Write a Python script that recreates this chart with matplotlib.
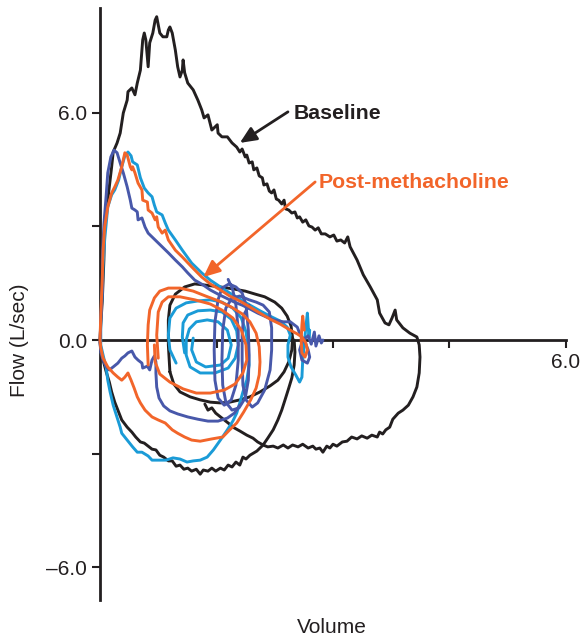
import matplotlib
matplotlib.use("Agg")
import matplotlib.pyplot as plt

plt.rcParams['font.family'] = ['Liberation Sans', 'DejaVu Sans']

# ---------------- data (Volume in L, Flow in L/sec) ----------------
# Baseline: full forced loop
base_loop_vol = [0.00, 0.01, 0.03, 0.05, 0.06, 0.10, 0.15, 0.17, 0.22, 0.26, 0.30, 0.35, 0.36, 0.41, 0.45, 0.48,
                 0.52, 0.55, 0.57, 0.59, 0.62, 0.64, 0.68, 0.71, 0.73, 0.75, 0.77, 0.81, 0.86, 0.88, 0.90, 0.93,
                 0.97, 1.00, 1.03, 1.06, 1.07, 1.09, 1.13, 1.20, 1.26, 1.31, 1.34, 1.39, 1.44, 1.51, 1.52, 1.57,
                 1.64, 1.70, 1.76, 1.80, 1.83, 1.87, 1.89, 1.92, 1.96, 1.98, 2.02, 2.05, 2.09, 2.11, 2.15, 2.18,
                 2.21, 2.24, 2.27, 2.30, 2.34, 2.37, 2.39, 2.43, 2.47, 2.51, 2.54, 2.57, 2.61, 2.65, 2.69, 2.73,
                 2.77, 2.81, 2.85, 2.90, 2.96, 3.01, 3.05, 3.10, 3.15, 3.19, 3.22, 3.31, 3.39, 3.48, 3.57, 3.60,
                 3.67, 3.72, 3.76, 3.80, 3.82, 3.90, 3.99, 4.08, 4.11, 4.12, 4.11, 4.08, 4.03, 3.97, 3.90, 3.84,
                 3.77, 3.73, 3.68, 3.64, 3.60, 3.57, 3.50, 3.44, 3.37, 3.31, 3.24, 3.18, 3.12, 3.05, 3.00, 2.96,
                 2.92, 2.87, 2.83, 2.78, 2.74, 2.68, 2.61, 2.55, 2.48, 2.42, 2.36, 2.29, 2.23, 2.16, 2.10, 2.02,
                 1.93, 1.88, 1.84, 1.80, 1.75, 1.70, 1.65, 1.60, 1.55, 1.49, 1.44, 1.39, 1.33, 1.29, 1.24, 1.18,
                 1.13, 1.08, 1.03, 0.98, 0.93, 0.88, 0.82, 0.77, 0.72, 0.67, 0.62, 0.57, 0.52, 0.46, 0.41, 0.35,
                 0.28, 0.23, 0.19, 0.15, 0.12, 0.08, 0.04, 0.01, 0.00]
base_loop_flow = [0.00, 0.40, 1.06, 2.11, 3.17, 3.69, 4.57, 4.96, 5.20, 5.46, 5.99, 6.33, 6.55, 6.65, 6.47, 6.78,
                  7.12, 7.92, 8.10, 7.92, 7.21, 7.84, 8.10, 8.44, 8.53, 8.32, 8.10, 8.00, 8.00, 8.18, 8.26, 8.10,
                  7.65, 7.21, 6.94, 7.12, 7.39, 7.05, 6.78, 6.60, 6.33, 6.07, 5.86, 5.94, 5.54, 5.68, 5.46, 5.36,
                  5.36, 5.20, 5.09, 4.96, 5.04, 4.83, 4.88, 4.67, 4.70, 4.49, 4.54, 4.33, 4.28, 4.09, 4.12, 3.93,
                  3.88, 3.96, 3.72, 3.69, 3.59, 3.69, 3.46, 3.43, 3.35, 3.38, 3.22, 3.25, 3.11, 3.17, 3.01, 2.98,
                  2.90, 2.96, 2.80, 2.80, 2.72, 2.77, 2.61, 2.64, 2.56, 2.72, 2.46, 2.11, 1.72, 1.40, 1.06, 0.71,
                  0.45, 0.40, 0.58, 0.79, 0.53, 0.32, 0.18, 0.08, -0.13, -0.45, -0.87, -1.24, -1.50, -1.72, -1.85, -1.93,
                  -2.09, -2.30, -2.37, -2.48, -2.43, -2.56, -2.51, -2.59, -2.53, -2.61, -2.56, -2.67, -2.69, -2.80, -2.75, -2.85,
                  -2.80, -2.96, -2.85, -2.88, -2.80, -2.85, -2.75, -2.82, -2.77, -2.85, -2.77, -2.85, -2.80, -2.82, -2.77, -2.93,
                  -3.04, -3.14, -3.09, -3.30, -3.22, -3.35, -3.30, -3.43, -3.38, -3.46, -3.38, -3.46, -3.43, -3.54, -3.41, -3.46,
                  -3.38, -3.41, -3.30, -3.33, -3.19, -3.19, -3.09, -3.04, -2.90, -2.88, -2.80, -2.72, -2.69, -2.56, -2.43, -2.30,
                  -2.11, -1.85, -1.64, -1.37, -1.11, -0.84, -0.53, -0.26, -0.05]

# Baseline: tidal loop
base_tidal_vol = [0.90, 0.88, 0.88, 0.90, 0.97, 1.09, 1.22, 1.35, 1.55, 1.71, 1.87, 2.00, 2.12, 2.25, 2.34, 2.41,
                  2.46, 2.48, 2.47, 2.43, 2.37, 2.29, 2.19, 2.06, 1.93, 1.80, 1.67, 1.55, 1.42, 1.29, 1.16, 1.03,
                  0.95, 0.90]
base_tidal_flow = [-0.84, -0.13, 0.53, 0.92, 1.21, 1.40, 1.48, 1.45, 1.40, 1.35, 1.29, 1.21, 1.14, 1.00, 0.84, 0.63,
                   0.37, 0.05, -0.26, -0.58, -0.84, -1.06, -1.21, -1.37, -1.50, -1.58, -1.64, -1.66, -1.64, -1.58, -1.50, -1.37,
                   -1.16, -0.84]

# Baseline: connecting segments
base_join_vol = [1.35, 1.39, 1.44, 1.49, 1.57, 1.65, 1.73, 1.80, 1.89, 1.97, 2.03, 2.10,
                 2.16, 2.23, 2.29, 2.34, 2.39, 2.43, 2.47, 2.50, 2.51, 2.50]
base_join_flow = [-1.69, -1.85, -1.79, -1.93, -2.06, -2.19, -2.32, -2.40, -2.51, -2.59, -2.69, -2.77,
                  -2.59, -2.37, -2.11, -1.85, -1.53, -1.27, -1.00, -0.66, -0.32, 0.00]

# Post-methacholine trial 1 (dark blue)
blue_loop_vol = [1.80, 1.73, 1.64, 1.52, 1.39, 1.26, 1.13, 1.00, 0.90, 0.82, 0.76, 0.73, 0.72, 0.72, 0.70, 0.67,
                 0.64, 0.61, 0.55, 0.54, 0.49, 0.45, 0.41, 0.36, 0.32, 0.28, 0.23, 0.17, 0.12, 0.08, 0.04, 0.01,
                 0.00, 0.01, 0.03, 0.03, 0.05, 0.08, 0.10, 0.14, 0.18, 0.22, 0.26, 0.30, 0.35, 0.39, 0.41, 0.45,
                 0.48, 0.49, 0.54, 0.58, 0.62, 0.67, 0.71, 0.75, 0.80, 0.88, 0.97, 1.06, 1.13, 1.22, 1.33, 1.42,
                 1.52, 1.62, 1.73, 1.83, 1.93, 2.03, 2.14, 2.24, 2.36, 2.45, 2.54, 2.57, 2.64, 2.68, 2.70, 2.67,
                 2.60, 2.57, 2.61, 2.68, 2.72, 2.76, 2.78, 2.82, 2.85, 2.87]
blue_loop_flow = [-1.72, -1.93, -2.06, -2.14, -2.14, -2.09, -2.03, -1.95, -1.87, -1.74, -1.53, -1.24, -0.87, -0.58, -0.42, -0.53,
                  -0.79, -0.69, -0.74, -0.61, -0.53, -0.45, -0.29, -0.34, -0.42, -0.48, -0.61, -0.71, -0.79, -0.71, -0.53, -0.32,
                  -0.05, 0.53, 1.32, 2.11, 3.04, 3.83, 4.41, 4.83, 5.01, 4.94, 4.67, 4.41, 4.04, 3.69, 3.48, 3.43,
                  3.38, 3.17, 3.22, 2.98, 2.82, 2.72, 2.64, 2.56, 2.46, 2.30, 2.11, 1.93, 1.77, 1.58, 1.45, 1.32,
                  1.21, 1.11, 1.00, 0.92, 0.82, 0.71, 0.61, 0.53, 0.48, 0.48, 0.34, 0.18, -0.05, -0.26, -0.45, -0.61,
                  -0.53, -0.26, 0.00, 0.11, -0.11, 0.21, -0.16, 0.11, -0.08, 0.00]
blue_tidal_vol = [1.65, 1.71, 1.75, 1.78, 1.78, 1.75, 1.69, 1.60, 1.52, 1.48, 1.47, 1.48, 1.52, 1.57, 1.66, 1.75,
                  1.83, 1.88, 1.91, 1.92, 1.91, 1.87, 1.79, 1.70, 1.62, 1.58, 1.57, 1.58, 1.62, 1.70, 1.80, 1.92,
                  2.01, 2.10, 2.18, 2.21, 2.21, 2.19, 2.12, 2.03, 1.96, 1.88, 1.84, 1.83, 1.83, 1.85, 1.92]
blue_tidal_flow = [1.60, 1.32, 0.92, 0.26, -0.53, -1.19, -1.58, -1.72, -1.53, -1.06, -0.26, 0.48, 1.06, 1.37, 1.48, 1.40,
                   1.24, 0.92, 0.26, -0.40, -1.06, -1.53, -1.79, -1.85, -1.64, -1.19, -0.53, 0.26, 0.84, 1.11, 1.16, 1.06,
                   1.00, 0.92, 0.74, 0.32, -0.26, -0.79, -1.32, -1.66, -1.77, -1.58, -1.19, -0.53, 0.13, 0.66, 0.92]

# Post-methacholine trial 2 (orange)
orange_loop_vol = [0.62, 0.61, 0.62, 0.64, 0.70, 0.77, 0.88, 1.03, 1.20, 1.36, 1.53, 1.69, 1.83, 1.93, 2.01, 2.05,
                   2.06, 2.05, 2.01, 1.94, 1.85, 1.76, 1.67, 1.58, 1.44, 1.29, 1.18, 1.09, 1.00, 0.93, 0.84, 0.75,
                   0.67, 0.58, 0.52, 0.48, 0.44, 0.40, 0.36, 0.32, 0.28, 0.23, 0.17, 0.10, 0.04, 0.01, 0.00, 0.01,
                   0.03, 0.04, 0.06, 0.10, 0.15, 0.19, 0.23, 0.28, 0.32, 0.35, 0.39, 0.41, 0.42, 0.45, 0.49, 0.54,
                   0.55, 0.61, 0.62, 0.67, 0.71, 0.73, 0.75, 0.80, 0.84, 0.88, 0.97, 1.06, 1.18, 1.31, 1.42, 1.55,
                   1.67, 1.80, 1.93, 2.06, 2.19, 2.32, 2.45, 2.54, 2.60, 2.65, 2.67, 2.64, 2.60, 2.59, 2.60, 2.61,
                   2.63]
orange_loop_flow = [-0.66, -0.13, 0.40, 0.79, 1.11, 1.29, 1.37, 1.37, 1.29, 1.16, 1.03, 0.87, 0.69, 0.48, 0.18, -0.18,
                    -0.58, -0.92, -1.27, -1.58, -1.90, -2.19, -2.37, -2.56, -2.61, -2.67, -2.64, -2.56, -2.46, -2.37, -2.19, -2.11,
                    -2.03, -1.85, -1.66, -1.50, -1.27, -1.06, -0.87, -0.98, -1.06, -0.98, -0.87, -0.71, -0.48, -0.21, 0.00, 0.66,
                    1.66, 2.37, 2.98, 3.51, 3.88, 4.04, 4.22, 4.57, 4.94, 4.88, 4.57, 4.49, 4.57, 4.41, 4.14, 3.96,
                    3.69, 3.64, 3.43, 3.35, 3.17, 3.25, 2.98, 2.82, 2.90, 2.64, 2.37, 2.19, 1.93, 1.66, 1.48, 1.32,
                    1.16, 1.03, 0.87, 0.71, 0.55, 0.42, 0.26, 0.16, 0.08, -0.08, -0.26, -0.45, -0.34, 0.00, 0.40, 0.63,
                    0.26]
orange_tidal_vol = [0.75, 0.73, 0.75, 0.80, 0.88, 1.03, 1.22, 1.42, 1.57, 1.71, 1.82, 1.88, 1.89, 1.84, 1.74, 1.60,
                    1.42, 1.24, 1.07, 0.90, 0.77, 0.71, 0.70]
orange_tidal_flow = [-0.48, 0.13, 0.74, 1.00, 1.14, 1.14, 1.06, 0.95, 0.79, 0.58, 0.26, -0.13, -0.53, -0.87, -1.16, -1.32,
                     -1.40, -1.40, -1.29, -1.11, -0.90, -0.58, -0.13]

# Post-methacholine trial 3 (light blue)
cyan_loop_vol = [0.98, 0.90, 0.88, 0.90, 0.98, 1.11, 1.26, 1.42, 1.57, 1.71, 1.82, 1.88, 1.91, 1.92, 1.89, 1.84,
                 1.80, 1.76, 1.71, 1.64, 1.55, 1.46, 1.38, 1.29, 1.20, 1.12, 1.03, 0.94, 0.85, 0.77, 0.67, 0.62,
                 0.54, 0.48, 0.42, 0.35, 0.28, 0.26, 0.21, 0.17, 0.13, 0.10, 0.08, 0.04, 0.01, 0.01, 0.03, 0.04,
                 0.06, 0.10, 0.15, 0.19, 0.24, 0.28, 0.32, 0.36, 0.40, 0.42, 0.48, 0.52, 0.57, 0.62, 0.67, 0.70,
                 0.73, 0.80, 0.84, 0.88, 0.97, 1.06, 1.18, 1.31, 1.42, 1.55, 1.67, 1.80, 1.93, 2.06, 2.19, 2.32,
                 2.41, 2.45, 2.42, 2.42, 2.46, 2.52, 2.57, 2.60, 2.61, 2.63, 2.65, 2.67, 2.68, 2.69, 2.70]
cyan_loop_flow = [-0.61, -0.26, 0.13, 0.58, 0.84, 0.98, 1.03, 1.06, 1.00, 0.84, 0.58, 0.21, -0.21, -0.66, -1.06, -1.37,
                  -1.66, -1.93, -2.14, -2.37, -2.64, -2.90, -3.09, -3.17, -3.19, -3.22, -3.14, -3.11, -3.17, -3.17, -3.17, -3.06,
                  -2.96, -2.96, -2.82, -2.64, -2.46, -2.30, -1.98, -1.72, -1.37, -1.06, -0.74, -0.40, -0.13, 0.53, 1.32, 1.98,
                  2.64, 3.51, 3.83, 3.96, 4.22, 4.57, 4.86, 4.96, 4.86, 4.70, 4.62, 4.28, 4.01, 3.88, 3.78, 3.56,
                  3.38, 3.30, 3.09, 2.90, 2.64, 2.37, 2.03, 1.77, 1.58, 1.40, 1.24, 1.08, 0.92, 0.77, 0.63, 0.50,
                  0.34, 0.13, -0.13, -0.45, -0.71, -0.92, -1.11, -0.98, -0.53, -0.13, 0.34, 0.71, 0.40, 0.05, 0.26]
cyan_tidal_vol = [1.09, 1.06, 1.07, 1.13, 1.26, 1.42, 1.57, 1.69, 1.76, 1.78, 1.74, 1.65, 1.48, 1.29, 1.16, 1.11,
                  1.11, 1.15, 1.24, 1.38, 1.52, 1.64, 1.69, 1.65, 1.55, 1.36, 1.24, 1.18, 1.20]
cyan_tidal_flow = [-0.34, 0.08, 0.45, 0.66, 0.77, 0.79, 0.74, 0.55, 0.24, -0.13, -0.48, -0.74, -0.87, -0.87, -0.71, -0.40,
                   0.00, 0.29, 0.48, 0.53, 0.48, 0.26, -0.13, -0.48, -0.66, -0.71, -0.58, -0.26, 0.05]

y_ticks = [-6, -3, 0, 3, 6]
y_tick_labels = ['\u20136.0', '', '0.0', '', '6.0']
x_ticks = [1.5, 3.0, 4.5, 6.0]
x_tick_labels = ['', '', '', '6.0']

# annotations: (text position, arrow tail, arrow head)
baseline_text_pos = (2.49, 5.83)
baseline_arrow = ((2.42, 6.02), (1.80, 5.20))
post_text_pos = (2.82, 4.01)
post_arrow = ((2.77, 4.17), (1.33, 1.66))

# ---------------- style ----------------
BLACK = '#231F20'
ORANGE = '#F2652A'
BLUE = '#4858AA'
CYAN = '#1A9BD7'
LW = 2.1

fig = plt.figure(figsize=(5.8, 6.37), dpi=100)
ax = fig.add_axes([100 / 580, 1 - 600 / 637, 466 / 580, 592 / 637])
ax.set_xlim(0, 6)
ax.set_ylim(-6.86, 8.76)

kw = dict(lw=LW, solid_joinstyle='round', solid_capstyle='round', clip_on=False)
ax.plot(base_loop_vol, base_loop_flow, color=BLACK, zorder=3, **kw)
ax.plot(base_tidal_vol, base_tidal_flow, color=BLACK, zorder=3, **kw)
ax.plot(base_join_vol, base_join_flow, color=BLACK, zorder=3, **kw)
ax.plot(cyan_loop_vol, cyan_loop_flow, color=CYAN, zorder=4, **kw)
ax.plot(cyan_tidal_vol, cyan_tidal_flow, color=CYAN, zorder=4, **kw)
ax.plot(blue_loop_vol, blue_loop_flow, color=BLUE, zorder=5, **kw)
ax.plot(blue_tidal_vol, blue_tidal_flow, color=BLUE, zorder=5, **kw)
ax.plot(orange_loop_vol, orange_loop_flow, color=ORANGE, zorder=6, **kw)
ax.plot(orange_tidal_vol, orange_tidal_flow, color=ORANGE, zorder=6, **kw)

# axes styling
for s in ['top', 'right']:
    ax.spines[s].set_visible(False)
ax.spines['bottom'].set_position(('data', 0))
ax.spines['left'].set_linewidth(2.0)
ax.spines['bottom'].set_linewidth(2.0)
ax.spines['left'].set_color(BLACK)
ax.spines['bottom'].set_color(BLACK)
ax.set_yticks(y_ticks)
ax.set_yticklabels(y_tick_labels)
ax.set_xticks(x_ticks)
ax.set_xticklabels(x_tick_labels)
ax.tick_params(axis='both', direction='out', length=5.8, width=1.5, color=BLACK,
               labelsize=15, labelcolor=BLACK, pad=3.5)
ax.patch.set_visible(False)

# annotations
ax.annotate('', xy=baseline_arrow[1], xytext=baseline_arrow[0],
            arrowprops=dict(arrowstyle='-|>,head_length=0.45,head_width=0.2', color=BLACK,
                            lw=2.0, mutation_scale=22, shrinkA=0, shrinkB=0), zorder=7)
ax.text(*baseline_text_pos, 'Baseline', color=BLACK, fontsize=15.3, fontweight='bold',
        ha='left', va='baseline', zorder=7)
ax.annotate('', xy=post_arrow[1], xytext=post_arrow[0],
            arrowprops=dict(arrowstyle='-|>,head_length=0.45,head_width=0.2', color=ORANGE,
                            lw=2.0, mutation_scale=22, shrinkA=0, shrinkB=0), zorder=7)
ax.text(*post_text_pos, 'Post-methacholine', color=ORANGE, fontsize=15.3, fontweight='bold',
        ha='left', va='baseline', zorder=7)

fig.text(20 / 580, 1 - 340 / 637, 'Flow (L/sec)', rotation=90, ha='center', va='center',
         fontsize=15, color=BLACK)
fig.text(332 / 580, 1 - 633 / 637, 'Volume', ha='center', va='baseline', fontsize=15, color=BLACK)

fig.savefig('out.png', dpi=100, facecolor='white')
